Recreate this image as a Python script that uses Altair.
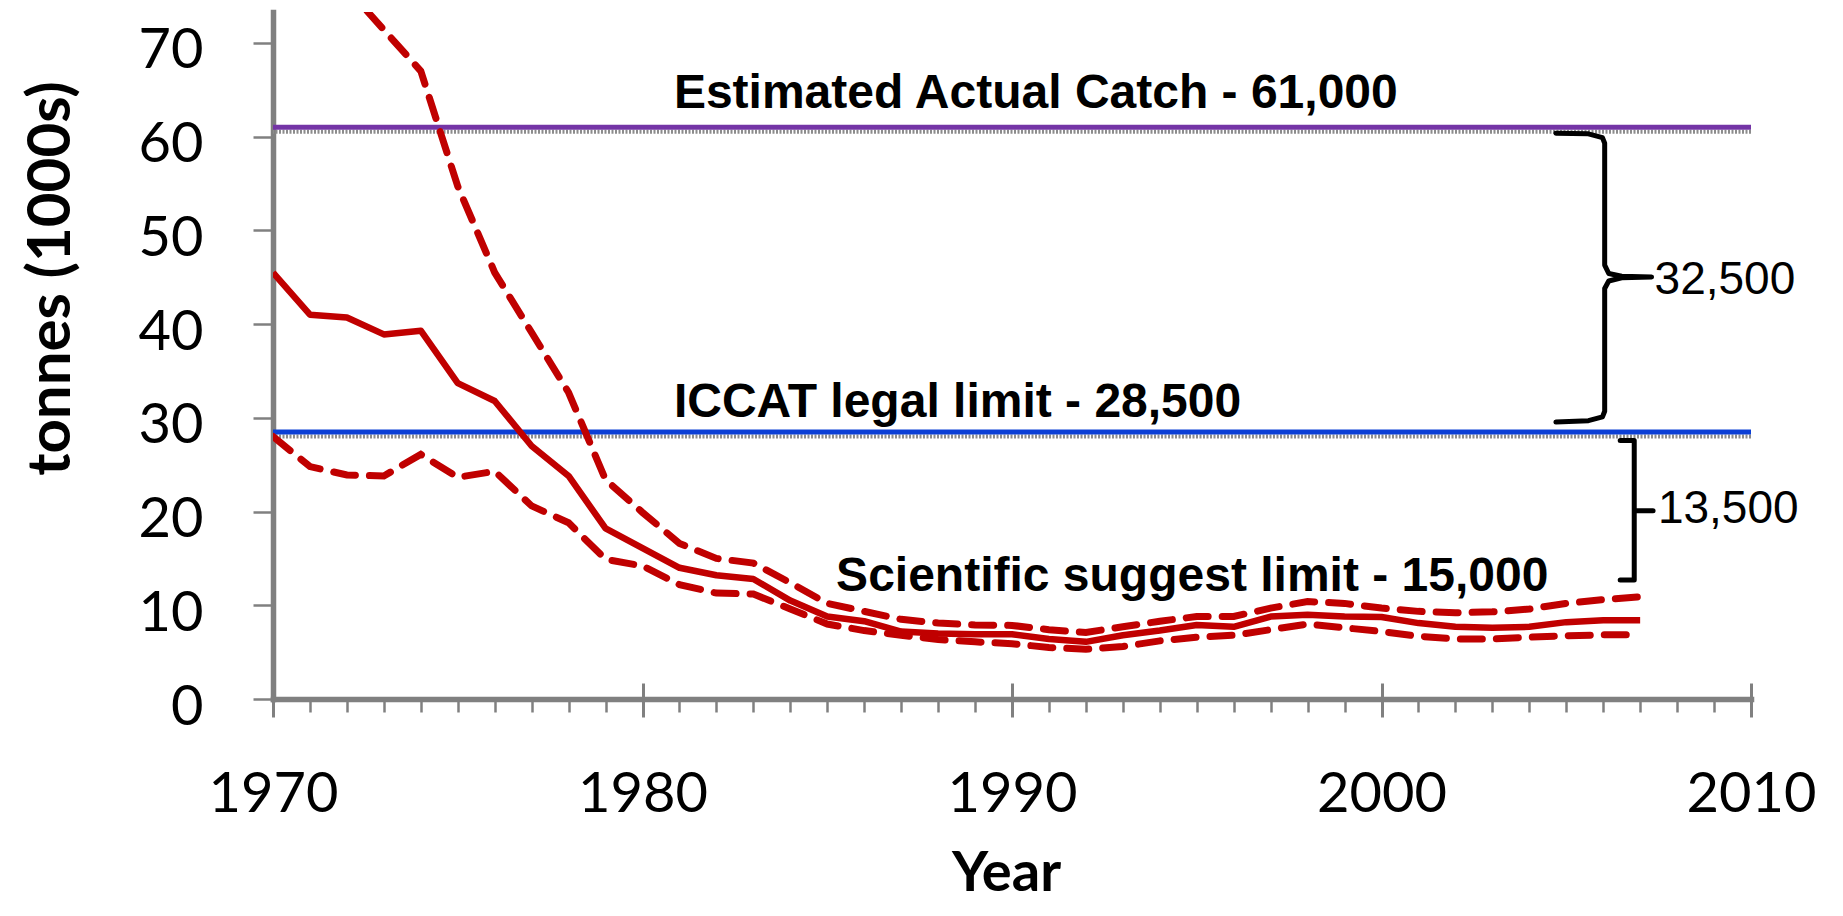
import altair as alt
import pandas as pd

# ---------------- data ----------------
years = list(range(1970, 2008))
central = [45.5, 41.0, 40.7, 38.9, 39.3, 33.7, 31.8, 27.0, 23.8, 18.2,
           16.1, 14.0, 13.2, 12.8, 10.5, 8.8, 8.3, 7.2, 7.0, 6.9,
           6.9, 6.4, 6.1, 6.8, 7.3, 7.9, 7.7, 8.8, 9.0, 8.8,
           8.75, 8.1, 7.7, 7.6, 7.7, 8.2, 8.4, 8.4]
upper = [85.0, 80.5, 75.8, 71.4, 67.0, 54.7, 45.5, 39.1, 32.7, 23.4,
         19.9, 16.6, 15.0, 14.5, 12.4, 10.2, 9.35, 8.5, 8.1, 7.9,
         7.85, 7.4, 7.1, 7.7, 8.3, 8.8, 8.8, 9.7, 10.4, 10.2,
         9.7, 9.35, 9.2, 9.3, 9.6, 10.2, 10.6, 10.9]
lower = [28.0, 24.8, 23.9, 23.8, 26.1, 23.65, 24.3, 20.6, 18.8, 14.9,
         14.2, 12.2, 11.3, 11.2, 9.6, 8.0, 7.3, 6.8, 6.35, 6.1,
         5.9, 5.5, 5.3, 5.6, 6.2, 6.6, 6.8, 7.4, 8.0, 7.6,
         7.2, 6.7, 6.4, 6.4, 6.6, 6.75, 6.85, 6.85]

decade_ticks = [1970, 1980, 1990, 2000, 2010]
year_ticks = list(range(1970, 2011))
y_ticks = [0, 10, 20, 30, 40, 50, 60, 70]

limit_values = [61.0, 28.5]
limit_labels = ["Estimated Actual Catch - 61,000", "ICCAT legal limit - 28,500",
                "Scientific suggest limit - 15,000"]
limit_label_values = [61.0, 28.5, 15.0]
limit_label_x = [1980.85, 1980.85, 1985.24]

gap_labels = ["32,500", "13,500"]
gap_label_x = [2007.39, 2007.48]
gap_label_y = [44.9, 20.5]

# brace outlines (year, thousand tonnes)
brace1_x = [2004.72, 2005.6, 2005.98, 2006.04, 2006.04, 2006.15, 2006.5, 2007.31,
            2006.5, 2006.15, 2006.04, 2006.04, 2005.98, 2005.6, 2004.72]
brace1_y = [60.36, 60.3, 59.9, 59.3, 46.3, 45.4, 45.1, 45.03,
            44.95, 44.6, 43.8, 30.7, 30.1, 29.7, 29.55]
brace2_x = [2006.46, 2006.84, 2006.84, 2007.35, 2006.84, 2006.84, 2006.46]
brace2_y = [27.59, 27.59, 20.09, 20.09, 20.09, 12.70, 12.70]

# ---------------- styling ----------------
W, H = 1478, 687
RED = "#C00000"
PURPLE = "#7434A6"
BLUE = "#0B3FD6"
GRAY = "#808080"

df = pd.DataFrame({"year": years, "central": central, "upper": upper, "lower": lower})
xscale = alt.Scale(domain=[1970, 2010], nice=False, zero=False)
yscale = alt.Scale(domain=[0, 73.3], nice=False, zero=True)


def X(field, axis=None):
    if axis is None:
        return alt.X(field, type="quantitative", scale=xscale, axis=None)
    return alt.X(field, type="quantitative", scale=xscale, axis=axis)


def Y(field, axis=None):
    if axis is None:
        return alt.Y(field, type="quantitative", scale=yscale, axis=None)
    return alt.Y(field, type="quantitative", scale=yscale, axis=axis)


# axis layer 1: annual minor ticks + x domain + y axis
minor_axis = alt.Axis(orient="bottom", values=year_ticks, tickSize=13, tickWidth=2.5,
                      tickColor=GRAY, labels=False, domain=True, domainColor=GRAY,
                      domainWidth=5.5, domainCap="square", grid=False, title=None)
y_axis = alt.Axis(orient="left", values=y_ticks, tickSize=20, tickWidth=2.5, tickColor=GRAY,
                  domain=True, domainColor=GRAY, domainWidth=5.5, domainCap="square",
                  grid=False, labelFont="Lato", labelFontSize=56, labelColor="black",
                  labelPadding=50, labelOffset=8, labelOverlap=False,
                  title="tonnes (1000s)", titleFont="Lato", titleFontSize=60,
                  titleFontWeight="bold", titleColor="black", titleAngle=270,
                  titleX=-204, titleY=266, titleBaseline="alphabetic", titleAlign="center")
layer_axes1 = alt.Chart(df).mark_point(opacity=0).encode(
    x=X("year", minor_axis), y=Y("central", y_axis))

# axis layer 2: decade ticks crossing the axis + labels + title
major_axis = alt.Axis(orient="bottom", values=decade_ticks, offset=-16, tickSize=34,
                      tickWidth=3, tickColor=GRAY, domain=False, grid=False,
                      labelFont="Lato", labelFontSize=56, labelColor="black",
                      labelPadding=50, labelFlush=False, labelOverlap=False, format="d",
                      title="Year", titleFont="Lato", titleFontSize=56,
                      titleFontWeight="bold", titleColor="black",
                      titleX=733, titleY=207, titleBaseline="alphabetic", titleAlign="center")
layer_axes2 = alt.Chart(df).mark_point(opacity=0).encode(
    x=X("year", major_axis), y=Y("central"))

# catch estimate lines
line_central = alt.Chart(df).mark_line(color=RED, strokeWidth=6.5, clip=True,
                                       strokeJoin="round").encode(x=X("year"), y=Y("central"))
line_upper = alt.Chart(df).mark_line(color=RED, strokeWidth=7, clip=True, strokeDash=[22, 14],
                                     strokeCap="round").encode(x=X("year"), y=Y("upper"))
line_lower = alt.Chart(df).mark_line(color=RED, strokeWidth=7, clip=True, strokeDash=[22, 14],
                                     strokeCap="round").encode(x=X("year"), y=Y("lower"))

# limit lines with their grey shadow
rules = []
for val, col in zip(limit_values, [PURPLE, BLUE]):
    rdf = pd.DataFrame({"value": [val]})
    rules.append(alt.Chart(rdf).mark_rule(color="#8c8c8c", strokeWidth=4, strokeDash=[2, 1.5],
                                          yOffset=4.5).encode(y=Y("value")))
    rules.append(alt.Chart(rdf).mark_rule(color=col, strokeWidth=5).encode(y=Y("value")))

# limit labels
texts = []
for lab, val, lx, dy in zip(limit_labels, limit_label_values, limit_label_x, [-19, -15, 33]):
    tdf = pd.DataFrame({"x": [lx], "y": [val], "t": [lab]})
    texts.append(alt.Chart(tdf).mark_text(align="left", baseline="alphabetic", dy=dy,
                                          font="Liberation Sans", fontWeight="bold",
                                          fontSize=48, color="black").encode(
        x=X("x"), y=Y("y"), text="t:N"))

gdf = pd.DataFrame({"x": gap_label_x, "y": gap_label_y, "t": gap_labels})
gap_text = alt.Chart(gdf).mark_text(align="left", baseline="middle", dy=2,
                                    font="Liberation Sans", fontSize=46,
                                    color="black").encode(x=X("x"), y=Y("y"), text="t:N")

# braces
bdf = pd.DataFrame({
    "x": brace1_x + brace2_x,
    "y": brace1_y + brace2_y,
    "o": list(range(len(brace1_x))) + list(range(len(brace2_x))),
    "b": ["b1"] * len(brace1_x) + ["b2"] * len(brace2_x),
})
braces = alt.Chart(bdf).mark_line(color="black", strokeWidth=5, strokeJoin="round",
                                  strokeCap="round").encode(
    x=X("x"), y=Y("y"), order=alt.Order("o:Q"), detail="b:N")

chart = alt.layer(
    layer_axes1, layer_axes2, *rules, line_lower, line_upper, line_central,
    *texts, gap_text, braces
).resolve_axis(x="independent", y="independent").properties(
    width=W, height=H,
    padding={"left": 265, "top": 4, "right": 70, "bottom": 205},
    autosize=alt.AutoSizeParams(type="none"),
    background="white",
).configure_view(stroke=None)

chart.save("out.html", embed_options={"renderer": "svg", "actions": False})
